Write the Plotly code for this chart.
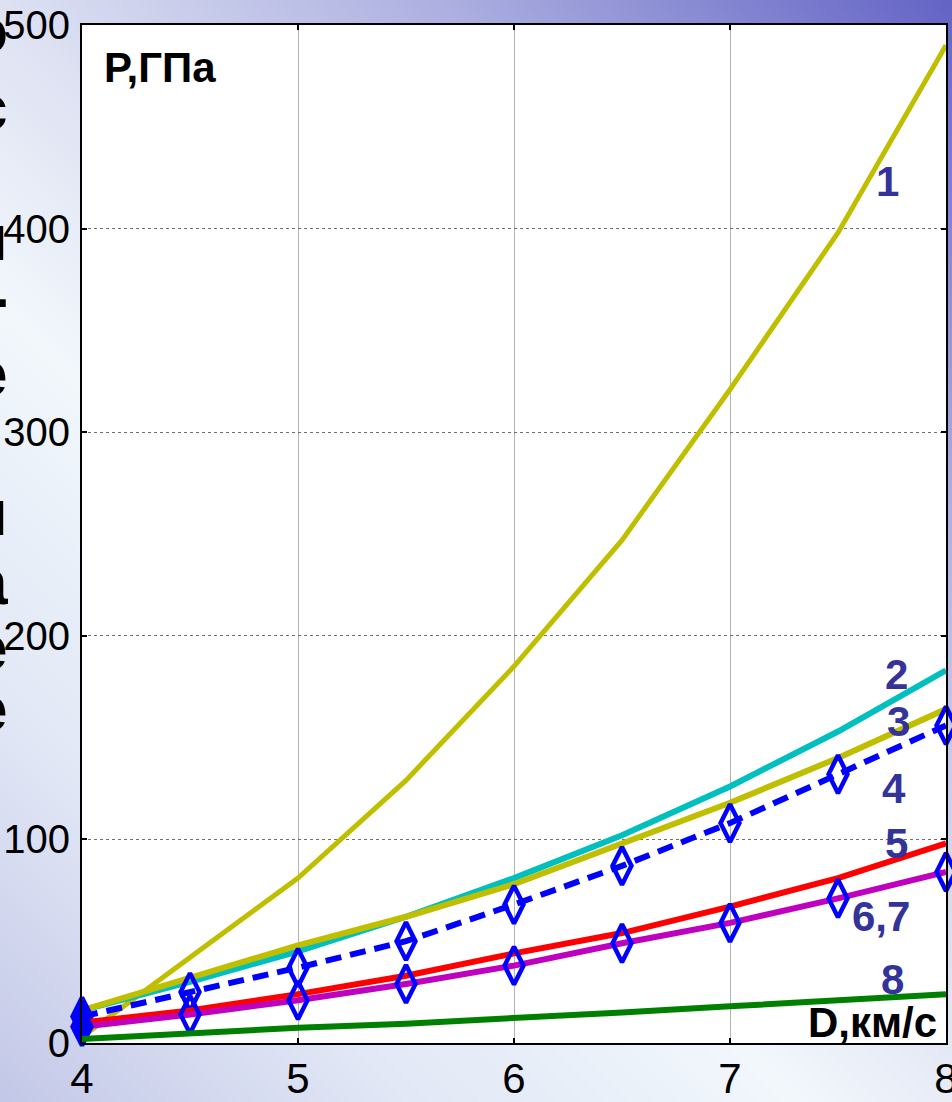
import base64
import struct
import zlib

import numpy as np
import plotly.graph_objects as go

# Detonation velocity D (km/s) and pressure P (GPa) for the eight models
D = [4, 4.5, 5, 5.5, 6, 6.5, 7, 7.5, 8]
p1 = [3, 42, 81, 129, 185, 247, 321, 398, 490]
p2 = [16, 30, 45, 62, 81, 102, 126, 153, 183]
p3 = [16, 32, 48, 62, 78, 98, 118, 140, 164]
p4 = [13, 25, 37, 50, 68, 87, 108, 132, 156]
p5 = [10, 16, 24, 33, 44, 54, 67, 81, 98]
p67 = [8, 14, 21, 29, 38, 49, 59, 71, 84]
p8 = [2, 5, 7.5, 9.5, 12, 15, 18, 21, 24]

curve_labels = ["1", "2", "3", "4", "5", "6,7", "8"]
label_x = [7.73, 7.77, 7.78, 7.76, 7.77, 7.70, 7.75]
label_y = [423, 181, 158, 125, 98, 62, 31]

x_ticks = [4, 5, 6, 7, 8]
y_ticks = [0, 100, 200, 300, 400, 500]

W_PX, H_PX = 952, 1102
ML, MR, MT, MB = 82, 6, 25, 59
PW, PH = W_PX - ML - MR, H_PX - MT - MB


def slide_background(w=238, h=276):
    """Diagonal lavender gradient of the slide, encoded as a PNG data URI."""
    xs = (np.arange(w) + 0.5) * W_PX / w
    ys = (np.arange(h) + 0.5) * H_PX / h
    t = xs[None, :] - ys[:, None]
    stops = [-1102, -700, -300, 0, 450, 952]
    cols = np.array([
        [196, 200, 232],
        [226, 232, 246],
        [242, 248, 252],
        [222, 226, 243],
        [172, 175, 224],
        [100, 100, 198],
    ], dtype=float)
    img = np.stack([np.interp(t, stops, cols[:, c]) for c in range(3)], axis=-1)
    img = np.clip(img, 0, 255).astype(np.uint8)
    raw = b"".join(b"\x00" + row.tobytes() for row in img)

    def chunk(tag, data):
        return (struct.pack(">I", len(data)) + tag + data
                + struct.pack(">I", zlib.crc32(tag + data) & 0xFFFFFFFF))

    png = (b"\x89PNG\r\n\x1a\n"
           + chunk(b"IHDR", struct.pack(">IIBBBBB", w, h, 8, 2, 0, 0, 0))
           + chunk(b"IDAT", zlib.compress(raw, 9))
           + chunk(b"IEND", b""))
    return "data:image/png;base64," + base64.b64encode(png).decode()


def px_to_paper_x(px):
    return (px - ML) / PW


def px_to_paper_y(py):
    return (H_PX - MB - py) / PH


OLIVE = "#BFBF00"
CYAN = "#00BFBF"
RED = "#FF0000"
MAGENTA = "#BF00BF"
GREEN = "#008000"
BLUE = "#0000FF"
LABEL_COLOR = "#333399"
BOLD_FONT = "Liberation Sans, Arial, sans-serif"

marker_symbols = ["diamond-tall"] + ["diamond-tall-open"] * (len(D) - 1)
diamond = dict(symbol=marker_symbols, size=27, color=BLUE,
               line=dict(color=BLUE, width=4.5))

fig = go.Figure()
fig.add_trace(go.Scatter(x=D, y=p1, mode="lines", line=dict(color=OLIVE, width=5)))
fig.add_trace(go.Scatter(x=D, y=p2, mode="lines", line=dict(color=CYAN, width=6)))
fig.add_trace(go.Scatter(x=D, y=p3, mode="lines", line=dict(color=OLIVE, width=6)))
fig.add_trace(go.Scatter(x=D, y=p4, mode="lines+markers",
                         line=dict(color=BLUE, width=6, dash="16px,9px"),
                         marker=diamond, cliponaxis=False))
fig.add_trace(go.Scatter(x=D, y=p5, mode="lines", line=dict(color=RED, width=6)))
fig.add_trace(go.Scatter(x=D, y=p67, mode="lines+markers",
                         line=dict(color=MAGENTA, width=6),
                         marker=diamond, cliponaxis=False))
fig.add_trace(go.Scatter(x=D, y=p8, mode="lines", line=dict(color=GREEN, width=6)))

for txt, lx, ly in zip(curve_labels, label_x, label_y):
    fig.add_annotation(x=lx, y=ly, text=f"<b>{txt}</b>", showarrow=False,
                       font=dict(family=BOLD_FONT, size=42, color=LABEL_COLOR))

fig.add_annotation(x=4.093, y=479, xanchor="left", text="<b>P,ГПа</b>",
                   showarrow=False,
                   font=dict(family=BOLD_FONT, size=42, color="black"))
fig.add_annotation(x=7.968, y=10, xanchor="right", text="<b>D,км/с</b>",
                   showarrow=False,
                   font=dict(family=BOLD_FONT, size=42, color="black"))

# Ends of the slide's body text that run past the left border
side_glyphs = [("о", 25), ("с", 102), ("п", 232), ("-", 292), ("е", 368),
               ("п", 507), ("а", 576), ("е", 642), ("е", 703)]
for ch, py in side_glyphs:
    fig.add_annotation(xref="paper", yref="paper", x=px_to_paper_x(10),
                       y=px_to_paper_y(py + 6), xanchor="right", yanchor="middle",
                       text=f"<b>{ch}</b>", showarrow=False,
                       font=dict(family=BOLD_FONT, size=64, color="black"))

x_tick_font = dict(family="Liberation Sans Narrow, Arial Narrow, Liberation Sans, sans-serif",
                   size=42, color="black")
y_tick_font = dict(family="Liberation Sans Narrow, Arial Narrow, Liberation Sans, sans-serif",
                   size=40, color="black")

fig.update_layout(
    width=W_PX, height=H_PX,
    margin=dict(l=ML, r=MR, t=MT, b=MB, pad=0, autoexpand=False),
    paper_bgcolor="#e6eaf6",
    plot_bgcolor="rgba(0,0,0,0)",
    showlegend=False,
    images=[dict(source=slide_background(), xref="paper", yref="paper",
                 x=-ML / PW, y=1 + MT / PH, xanchor="left", yanchor="top",
                 sizex=W_PX / PW, sizey=H_PX / PH, sizing="stretch",
                 layer="below")],
    shapes=[dict(type="rect", xref="paper", yref="paper", x0=0, x1=1, y0=0, y1=1,
                 fillcolor="white", line=dict(width=0), layer="below")],
    xaxis=dict(range=[4, 8], tickvals=x_ticks, ticktext=[str(v) for v in x_ticks],
               showgrid=True, gridcolor="#b4b4b4", gridwidth=1,
               showline=True, linecolor="black", linewidth=2, mirror="ticks",
               ticks="inside", ticklen=5, tickwidth=2, tickcolor="black",
               tickfont=x_tick_font, zeroline=False, ticklabelstandoff=-2,
               automargin=False, ticklabeloverflow="allow"),
    yaxis=dict(range=[0, 500], tickvals=y_ticks, ticktext=[str(v) for v in y_ticks],
               showgrid=True, gridcolor="#707070", gridwidth=1, griddash="dot",
               showline=True, linecolor="black", linewidth=2, mirror="ticks",
               ticks="inside", ticklen=5, tickwidth=2, tickcolor="black",
               tickfont=y_tick_font, zeroline=False, ticklabelstandoff=2,
               automargin=False, ticklabeloverflow="allow"),
)

fig.write_html("out.html")
